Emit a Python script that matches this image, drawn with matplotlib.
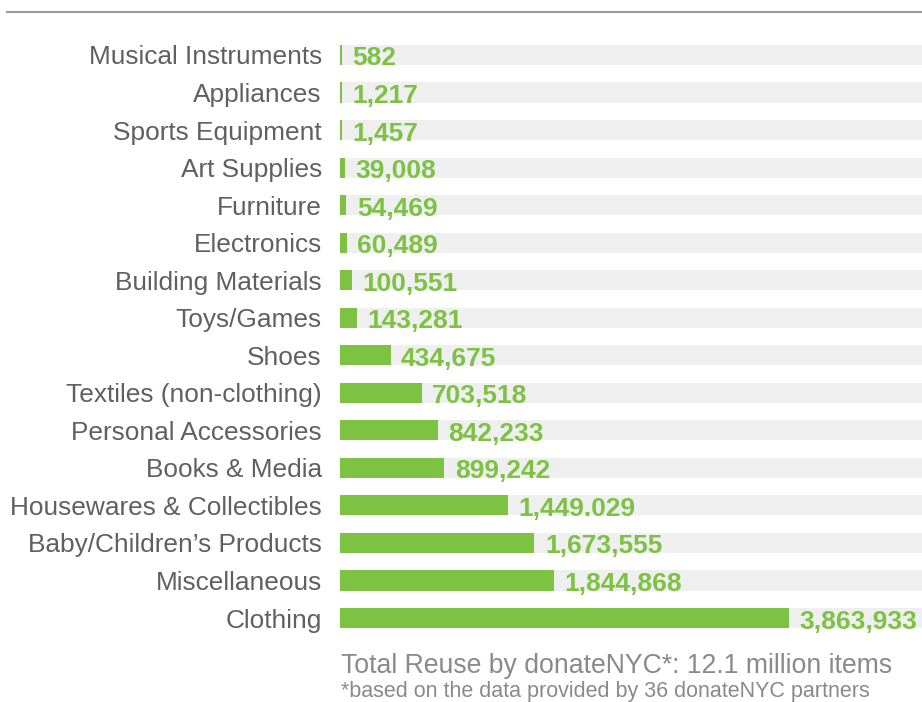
import numpy as np
import matplotlib
matplotlib.use("Agg")
from matplotlib import pyplot as plt

categories = ['Musical Instruments', 'Appliances', 'Sports Equipment', 'Art Supplies',
              'Furniture', 'Electronics', 'Building Materials', 'Toys/Games', 'Shoes',
              'Textiles (non-clothing)', 'Personal Accessories', 'Books & Media',
              'Housewares & Collectibles', "Baby/Children\u2019s Products", 'Miscellaneous',
              'Clothing']
items = [582, 1217, 1457, 39008, 54469, 60489, 100551, 143281, 434675,
         703518, 842233, 899242, 1449029, 1673555, 1844868, 3863933]
# labels as printed in the source (incl. its "1,449.029")
item_labels = ['582', '1,217', '1,457', '39,008', '54,469', '60,489', '100,551', '143,281',
               '434,675', '703,518', '842,233', '899,242', '1,449.029', '1,673,555',
               '1,844,868', '3,863,933']

GREEN = '#7dc242'
TRACK = '#efefef'
LABEL = '#606060'
NOTE = '#8a8a8a'

plt.rcParams['font.family'] = ['Liberation Sans', 'DejaVu Sans']

fig = plt.figure(figsize=(9.22, 7.02), dpi=100)
ax = fig.add_axes([340 / 922, 1 - 636.8 / 702, 582 / 922, 600.6 / 702])

xmax = items[-1] * 582 / 449
y = np.arange(len(categories))
h = 0.535

ax.barh(y, [xmax] * len(y), height=h, color=TRACK, zorder=1)
# tiny values still get a visible sliver, like the original
min_w = xmax / 582 * 1.5
widths = [max(v, min_w) for v in items]
ax.barh(y, widths, height=h, color=GREEN, zorder=2)

for yi, w, lab in zip(y, widths, item_labels):
    ax.annotate(lab, (w, yi), xytext=(7.5, -0.7), textcoords='offset points',
                ha='left', va='center_baseline', color=GREEN, fontsize=19,
                fontweight='bold', zorder=3)

ax.set_xlim(0, xmax)
ax.set_ylim(len(y) - 0.5, -0.5)
ax.set_yticks(y)
ax.set_yticklabels(categories, fontsize=18.9, color=LABEL)
ax.tick_params(axis='y', length=0, pad=13)
ax.set_xticks([])
for s in ax.spines.values():
    s.set_visible(False)

# rule across the top
fig.add_artist(plt.Line2D([7 / 922, 1], [1 - 12 / 702] * 2, color='#999999', lw=1.5))

fig.text(341 / 922, 1 - 666 / 702, 'Total Reuse by donateNYC*: 12.1 million items',
         ha='left', va='center', fontsize=19.2, color=NOTE)
fig.text(341 / 922, 1 - 692 / 702, '*based on the data provided by 36 donateNYC partners',
         ha='left', va='center', fontsize=15.5, color=NOTE)

fig.savefig('out.png', dpi=100)
